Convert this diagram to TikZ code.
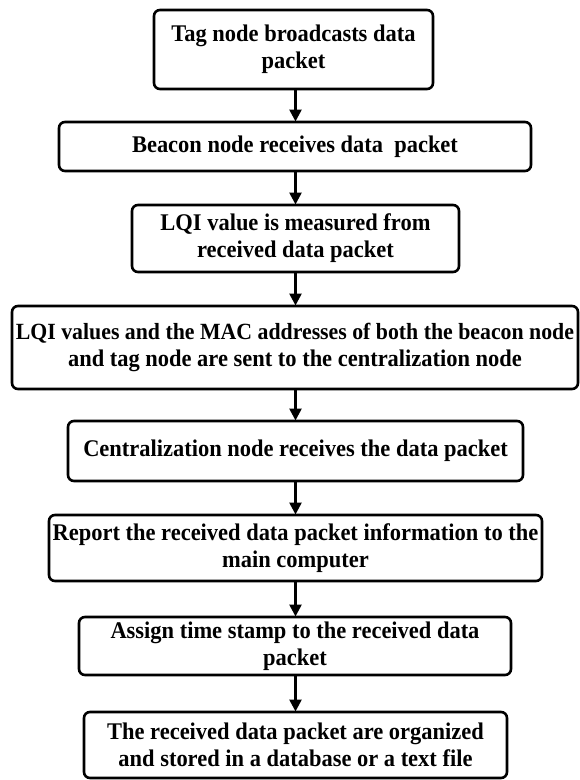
\documentclass[tikz,border=0pt]{standalone}
\usepackage{fontspec}
\setmainfont{Liberation Serif}[FakeStretch=0.94]
\usetikzlibrary{arrows.meta}
\tikzset{
  flowbox/.style={draw=black, line width=2.6pt, rounded corners=6pt, align=center,
    inner sep=0pt, outer sep=0pt, font=\bfseries\fontsize{23.9}{27}\selectfont},
  flowarrow/.style={line width=2.6pt, -{Triangle[length=12pt,width=12pt]}, shorten >=0.5pt}
}
\begin{document}
\begin{tikzpicture}[x=1pt,y=-1pt]
\useasboundingbox (0,0) rectangle (579,780);
\node[flowbox, minimum width=279pt, minimum height=79pt] (b1) at (293.5,49.5)
  {Tag node broadcasts data\\packet};
\node[flowbox, minimum width=472pt, minimum height=49pt] (b2) at (295,146.5)
  {Beacon node receives data~~packet};
\node[flowbox, minimum width=327pt, minimum height=67pt] (b3) at (295.5,238.5)
  {LQI value is measured from\\received data packet};
\node[flowbox, minimum width=566pt, minimum height=83pt] (b4) at (295,347.5)
  {\fontsize{23.2}{29}\selectfont LQI values and the MAC addresses of both the beacon node\\and tag node are sent to the centralization node};
\node[flowbox, minimum width=455pt, minimum height=60pt] (b5) at (295.5,451)
  {Centralization node receives the data packet};
\node[flowbox, minimum width=493pt, minimum height=66pt] (b6) at (295.5,548)
  {Report the received data packet information to the\\main computer};
\node[flowbox, minimum width=432pt, minimum height=58pt] (b7) at (295,646)
  {Assign time stamp to the received data\\packet};
\node[flowbox, minimum width=423pt, minimum height=66pt] (b8) at (295.5,745)
  {The received data packet are organized\\and stored in a database or a text file};
\coordinate (x) at (295.5,0);
\draw[flowarrow] (b1.south -| x) -- (b2.north -| x);
\draw[flowarrow] (b2.south -| x) -- (b3.north -| x);
\draw[flowarrow] (b3.south -| x) -- (b4.north -| x);
\draw[flowarrow] (b4.south -| x) -- (b5.north -| x);
\draw[flowarrow] (b5.south -| x) -- (b6.north -| x);
\draw[flowarrow] (b6.south -| x) -- (b7.north -| x);
\draw[flowarrow] (b7.south -| x) -- (b8.north -| x);
\end{tikzpicture}
\end{document}
